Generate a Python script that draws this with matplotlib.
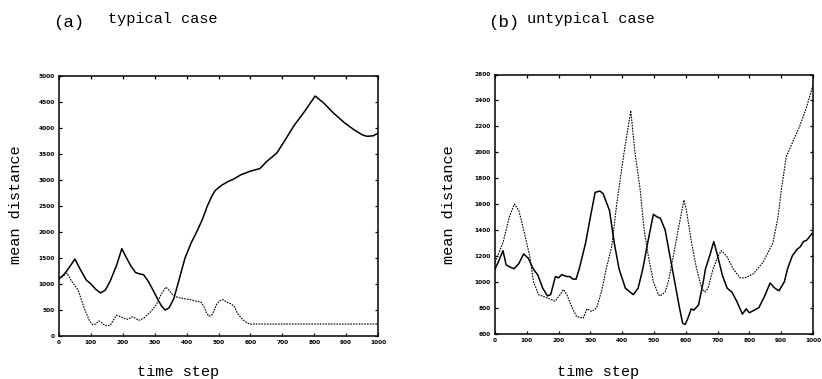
import matplotlib
matplotlib.use("Agg")
import matplotlib.pyplot as plt

# ---- panel (a): typical case ----
a_solid_t = [0, 15, 30, 50, 65, 85, 100, 115, 130, 145, 160, 180, 197, 210, 225, 240, 255, 265,
             280, 295, 310, 322, 333, 345, 360, 375, 395, 415, 433, 450, 465, 480, 490, 510,
             530, 548, 570, 600, 630, 650, 683, 710, 736, 770, 803, 830, 860, 895, 924, 950,
             965, 985, 1000]
a_solid_v = [1100, 1180, 1300, 1480, 1300, 1080, 1000, 900, 830, 880, 1050, 1350, 1680, 1520,
             1350, 1220, 1190, 1180, 1050, 880, 700, 570, 500, 540, 720, 1050, 1500, 1800,
             2020, 2250, 2500, 2700, 2800, 2900, 2970, 3020, 3100, 3170, 3220, 3350, 3520,
             3780, 4040, 4320, 4615, 4480, 4290, 4100, 3970, 3870, 3840, 3850, 3900]

a_dash_t = [0, 12, 25, 40, 60, 80, 95, 105, 115, 125, 135, 145, 160, 170, 180, 190, 200, 215,
            230, 240, 250, 265, 285, 305, 320, 335, 345, 355, 365, 375, 390, 410, 430, 445,
            455, 462, 470, 478, 485, 495, 505, 515, 525, 540, 550, 560, 575, 590, 600, 700,
            800, 900, 1000]
a_dash_v = [1100, 1150, 1210, 1050, 880, 520, 300, 220, 230, 290, 250, 200, 200, 300, 400,
            380, 350, 320, 370, 340, 300, 340, 450, 600, 800, 940, 880, 800, 760, 740, 720,
            700, 670, 650, 560, 450, 380, 400, 470, 620, 680, 700, 650, 620, 560, 430, 320,
            250, 230, 230, 230, 230, 230]

# ---- panel (b): untypical case ----
b_solid_t = [0, 10, 25, 35, 50, 60, 75, 90, 105, 120, 135, 150, 165, 175, 190, 200, 210, 225,
             235, 245, 255, 265, 285, 300, 315, 330, 340, 360, 375, 390, 410, 425, 435, 450,
             465, 480, 498, 510, 520, 535, 550, 565, 580, 590, 598, 607, 617, 625, 640, 655,
             662, 675, 688, 700, 715, 730, 745, 760, 778, 790, 800, 815, 830, 850, 865, 880,
             893, 910, 920, 935, 950, 960, 970, 980, 1000]
b_solid_v = [1100, 1150, 1240, 1130, 1110, 1100, 1140, 1215, 1180, 1100, 1050, 950, 890, 900,
             1040, 1030, 1055, 1040, 1040, 1020, 1020, 1100, 1300, 1500, 1690, 1700, 1680,
             1550, 1300, 1100, 950, 920, 900, 950, 1100, 1300, 1520, 1500, 1490, 1400, 1200,
             1000, 800, 680, 670, 720, 790, 780, 820, 1000, 1100, 1200, 1310, 1200, 1050, 950,
             920, 850, 750, 790, 760, 780, 800, 900, 990, 950, 930, 1000, 1100, 1200, 1250,
             1270, 1310, 1320, 1380]

b_dash_t = [0, 25, 45, 61, 75, 90, 109, 121, 137, 158, 179, 189, 205, 215, 226, 242, 257, 278,
            289, 304, 320, 336, 350, 367, 383, 406, 427, 440, 456, 469, 482, 498, 514, 519,
            535, 545, 561, 576, 594, 602, 618, 634, 650, 660, 670, 686, 702, 712, 728, 749,
            770, 786, 812, 843, 874, 890, 901, 916, 958, 980, 1000]
b_dash_v = [1150, 1300, 1500, 1600, 1550, 1400, 1200, 1000, 900, 880, 860, 850, 900, 940, 900,
            800, 730, 720, 790, 770, 800, 936, 1100, 1272, 1604, 2000, 2320, 2000, 1720, 1400,
            1200, 1000, 900, 890, 920, 1000, 1200, 1400, 1630, 1550, 1300, 1100, 950, 920, 950,
            1100, 1200, 1240, 1200, 1100, 1030, 1030, 1060, 1150, 1300, 1500, 1720, 1966,
            2200, 2350, 2520]

x_ticks = list(range(0, 1001, 100))
a_yticks = list(range(0, 5001, 500))
b_yticks = list(range(600, 2601, 200))

W, H = 822, 379
fig = plt.figure(figsize=(W / 100, H / 100), dpi=100)

mono = ["Liberation Mono", "DejaVu Sans Mono"]


def make_ax(px_left, px_right, px_top, px_bottom):
    return fig.add_axes([px_left / W, 1 - px_bottom / H,
                         (px_right - px_left) / W, (px_bottom - px_top) / H])


def style(ax, yticks, ylim):
    ax.set_xlim(0, 1000)
    ax.set_ylim(*ylim)
    ax.set_xticks(x_ticks)
    ax.set_yticks(yticks)
    ax.tick_params(direction="in", length=2.5, width=0.9, top=True, right=True,
                   labelsize=4.2, pad=3)
    for lab in ax.get_xticklabels() + ax.get_yticklabels():
        lab.set_fontweight("bold")
    for s in ax.spines.values():
        s.set_linewidth(1.1)


ax1 = make_ax(59, 378, 76, 336)
ax1.plot(a_solid_t, a_solid_v, color="black", lw=1.1)
ax1.plot(a_dash_t, a_dash_v, color="black", lw=0.8, dashes=(1.5, 1))
style(ax1, a_yticks, (0, 5000))

ax2 = make_ax(495, 813, 74.5, 333.5)
ax2.plot(b_solid_t, b_solid_v, color="black", lw=1.1)
ax2.plot(b_dash_t, b_dash_v, color="black", lw=0.8, dashes=(1.5, 1))
style(ax2, b_yticks, (600, 2600))

# titles
fig.text(53 / W, 1 - 26.5 / H, "(a)", family=mono, fontsize=12.5, va="baseline", ha="left")
fig.text(108 / W, 1 - 22.5 / H, "typical case", family=mono, fontsize=11, va="baseline", ha="left")
fig.text(488 / W, 1 - 26.5 / H, "(b)", family=mono, fontsize=12.5, va="baseline", ha="left")
fig.text(527 / W, 1 - 22.5 / H, "untypical case", family=mono, fontsize=11, va="baseline", ha="left")

# axis labels
fig.text(178 / W, 1 - 372 / H, "time step", family=mono, fontsize=11, ha="center", va="center")
fig.text(598 / W, 1 - 372 / H, "time step", family=mono, fontsize=11, ha="center", va="center")
fig.text(16 / W, 1 - 205 / H, "mean distance", family=mono, fontsize=11, ha="center",
         va="center", rotation=90)
fig.text(449 / W, 1 - 205 / H, "mean distance", family=mono, fontsize=11, ha="center",
         va="center", rotation=90)

fig.savefig("out.png", dpi=100)
